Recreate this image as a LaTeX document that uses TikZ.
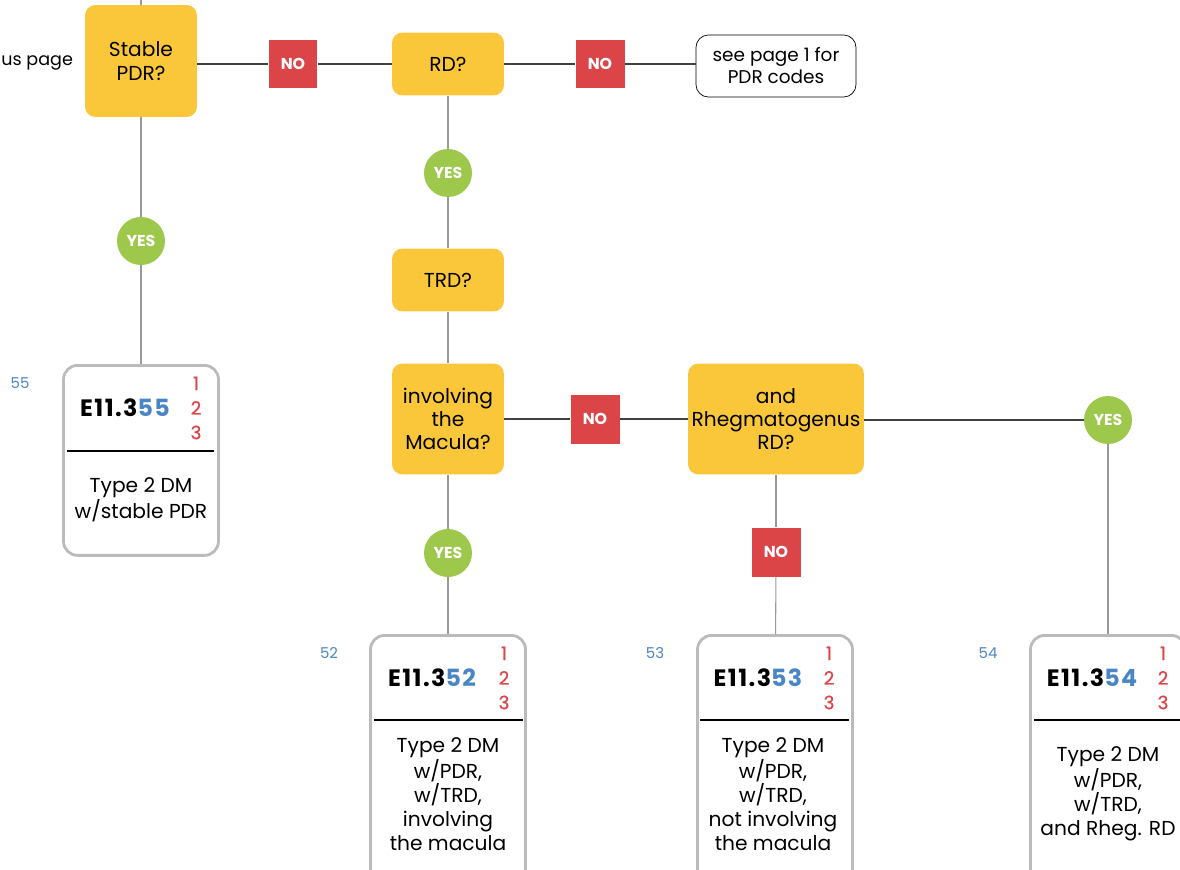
\documentclass[tikz,border=0pt]{standalone}
\usepackage{fontspec}
\setmainfont{Poppins}
\usetikzlibrary{shapes,positioning,calc}

\tikzset{
    decision/.style={fill=dyellow, draw=none, rounded corners=6pt, align=center,
        font=\fontsize{11.5}{13.2}\selectfont, inner sep=2pt},
    nobox/.style={fill=dred, minimum size=0.98cm, inner sep=0pt, text=white,
        font=\fontsize{9}{10}\selectfont\bfseries},
    yesdot/.style={circle, fill=dgreen, minimum size=0.96cm, inner sep=0pt, text=white,
        font=\fontsize{9}{10}\selectfont\bfseries},
    notebox/.style={draw=black, fill=white, rounded corners=7pt, align=center,
        minimum width=3.2cm, minimum height=1.24cm, font=\fontsize{10.5}{12.5}\selectfont},
    codebox/.style={draw=cgray, line width=1.6pt, rounded corners=8pt, minimum width=3.1cm},
    codetext/.style={font=\fontsize{13.5}{15}\selectfont\bfseries\addfontfeature{LetterSpace=6}},
    digits/.style={align=center, text=dred, font=\fontsize{10.5}{14}\selectfont\addfontfeature{FakeBold=0.6}},
    desc/.style={align=center, font=\fontsize{11.5}{13.6}\selectfont},
    codelabel/.style={text=cblue, font=\fontsize{8.5}{9}\selectfont},
    vline/.style={draw=gray!80, line width=0.6pt},
    hline/.style={draw=black!75, line width=0.6pt},
    divider/.style={draw=black, line width=0.6pt}
}

\begin{document}
\begin{tikzpicture}[x=0.02cm, y=-0.02cm]
    % colori
    \definecolor{dyellow}{RGB}{250,199,58}
    \definecolor{dred}{RGB}{219,69,72}
    \definecolor{dgreen}{RGB}{157,200,76}
    \definecolor{cblue}{RGB}{74,134,197}
    \definecolor{cgray}{RGB}{187,187,187}

    \useasboundingbox (0,0) rectangle (1180,869);
    \clip (0,0) rectangle (1180,869);

    % riga superiore
    \node[anchor=west, inner sep=0pt, font=\fontsize{10}{12}\selectfont] (prev) at (1,63) {us page};
    \node[decision, minimum width=2.24cm, minimum height=2.24cm] (stable) at (141,61) {Stable\\PDR?};
    \coordinate (top) at (141,-5);
    \node[nobox] (no1) at (293,64) {NO};
    \node[decision, minimum width=2.24cm, minimum height=1.26cm] (rd) at (448,64) {RD?};
    \node[nobox] (no2) at (600,64) {NO};
    \node[notebox] (see) at (776,66) {see page 1 for\\PDR codes};

    % colonna RD
    \node[yesdot] (yes2) at (448,173) {YES};
    \node[decision, minimum width=2.24cm, minimum height=1.26cm] (trd) at (448,280) {TRD?};
    \node[decision, minimum width=2.24cm, minimum height=2.22cm] (macula) at (448,419) {involving\\the\\Macula?};
    \node[nobox] (no3) at (595,419) {NO};
    \node[decision, minimum width=3.52cm, minimum height=2.22cm] (rheg) at (776,419) {and\\Rhegmatogenus\\RD?};
    \node[yesdot] (yes4) at (1108,420) {YES};
    \node[yesdot] (yes3) at (448,553) {YES};
    \node[nobox] (no4) at (776,552) {NO};

    % colonna stable PDR
    \node[yesdot] (yes1) at (141,241) {YES};

    % E11.355
    \node[codebox, minimum height=3.8cm, anchor=north] (c355) at (141,364) {};
    \node[codetext] (c355code) at (125,408) {E11.3\textcolor{cblue}{55}};
    \node[digits] (c355dig) at (196,408) {1\\2\\3};
    \draw[divider] (67,451) -- (214,451);
    \node[desc] (c355desc) at (141,500) {Type 2 DM\\w/stable PDR};
    \node[codelabel] (c355lbl) at (20,383) {55};

    % E11.352
    \node[codebox, minimum height=5.4cm, anchor=north] (c352) at (448,634) {};
    \node[codetext] (c352code) at (432,678) {E11.3\textcolor{cblue}{52}};
    \node[digits] (c352dig) at (504,678) {1\\2\\3};
    \draw[divider] (374,720) -- (523,720);
    \node[desc] (c352desc) at (448,794) {Type 2 DM\\w/PDR,\\w/TRD,\\involving\\the macula};
    \node[codelabel] (c352lbl) at (329,653) {52};

    % E11.353
    \node[codebox, minimum height=5.4cm, anchor=north] (c353) at (775,634) {};
    \node[codetext] (c353code) at (758,678) {E11.3\textcolor{cblue}{53}};
    \node[digits] (c353dig) at (829,678) {1\\2\\3};
    \draw[divider] (700,720) -- (849,720);
    \node[desc] (c353desc) at (773,794) {Type 2 DM\\w/PDR,\\w/TRD,\\not involving\\the macula};
    \node[codelabel] (c353lbl) at (655,653) {53};

    % E11.354
    \node[codebox, minimum height=5.4cm, anchor=north] (c354) at (1108,634) {};
    \node[codetext] (c354code) at (1092,678) {E11.3\textcolor{cblue}{54}};
    \node[digits] (c354dig) at (1163,678) {1\\2\\3};
    \draw[divider] (1034,720) -- (1183,720);
    \node[desc] (c354desc) at (1108,794) {Type 2 DM\\w/PDR,\\w/TRD,\\and Rheg. RD};
    \node[codelabel] (c354lbl) at (988,653) {54};

    % collegamenti
    \draw[vline] (top) -- (stable);
    \draw[vline] (stable) -- (yes1);
    \draw[vline] (yes1) -- (c355);
    \draw[hline] (stable.east |- no1) -- (no1);
    \draw[hline] (no1) -- (rd);
    \draw[hline] (rd) -- (no2);
    \draw[hline] (no2) -- (see.west |- no2);
    \draw[vline] (rd) -- (yes2);
    \draw[vline] (yes2) -- (trd);
    \draw[vline] (trd) -- (macula);
    \draw[vline] (macula) -- (yes3);
    \draw[vline] (yes3) -- (c352);
    \draw[hline] (macula) -- (no3);
    \draw[hline] (no3) -- (rheg);
    \draw[hline] (rheg.east |- yes4) -- (yes4);
    \draw[vline] (yes4) -- (c354);
    \draw[vline] (rheg) -- (no4);
    \draw[vline] (no4) -- (c353);
\end{tikzpicture}
\end{document}
